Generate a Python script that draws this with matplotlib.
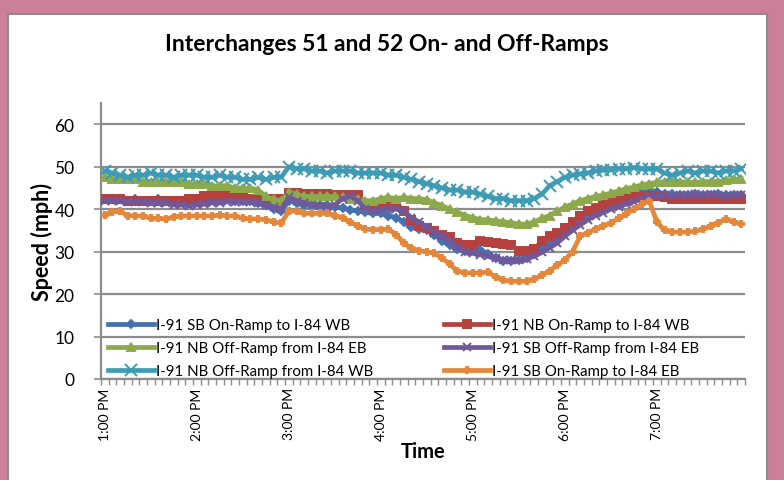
import matplotlib
matplotlib.use("Agg")
import matplotlib.pyplot as plt
from matplotlib.patches import Rectangle
import numpy as np

plt.rcParams['font.family'] = ['Lato', 'DejaVu Sans']

# 5-minute observations from 1:00 PM to 7:55 PM
times = [f"{h}:{m:02d} PM" for h in range(1, 8) for m in range(0, 60, 5)]
tick_labels = ["1:00 PM", "2:00 PM", "3:00 PM", "4:00 PM", "5:00 PM", "6:00 PM", "7:00 PM"]

sb_on_i84wb = [42.5, 42.5, 42.5, 42.0, 42.5, 42.0, 42.0, 42.5, 42.0, 42.0, 42.0, 42.0,
               42.0, 42.0, 42.5, 42.5, 42.5, 42.0, 42.0, 42.0, 41.5, 41.0, 40.0, 39.5,
               42.0, 41.5, 41.0, 41.0, 41.0, 41.0, 40.5, 40.3, 39.8, 39.6, 39.3, 39.0,
               39.0, 38.5, 38.0, 37.0, 35.8, 35.3, 35.0, 34.0, 32.5, 31.5, 30.5, 30.1,
               30.3, 30.4, 29.5, 28.5, 27.8, 27.8, 28.0, 28.5, 29.5, 31.0, 32.2, 33.5,
               35.0, 36.5, 37.8, 39.0, 40.0, 40.5, 41.2, 42.0, 42.8, 43.5, 44.0, 44.3,
               44.0, 43.6, 43.5, 43.3, 43.3, 43.5, 43.3, 43.3, 43.5, 43.3, 43.3, 43.3]

nb_on_i84wb = [42.5, 42.5, 42.5, 42.0, 42.0, 42.0, 42.0, 42.0, 42.0, 42.0, 42.0, 42.5,
               42.5, 43.0, 43.3, 43.3, 43.3, 43.0, 43.0, 42.5, 42.5, 42.5, 42.5, 42.5,
               43.8, 43.8, 43.5, 43.5, 43.5, 43.5, 43.3, 43.3, 43.3, 43.3, 41.0, 40.8,
               40.5, 41.5, 41.5, 39.5, 37.5, 36.0, 35.5, 34.8, 34.0, 33.5, 32.0, 31.5,
               31.5, 32.4, 32.2, 32.0, 31.8, 31.5, 30.2, 30.2, 30.5, 32.5, 33.6, 34.5,
               35.5, 37.0, 38.5, 39.5, 40.3, 41.0, 41.5, 42.0, 42.5, 43.0, 43.0, 43.0,
               43.2, 42.8, 42.5, 42.5, 42.5, 42.5, 42.5, 42.5, 42.5, 42.3, 42.3, 42.5]

nb_off_i84eb = [47.5, 47.0, 47.0, 47.0, 47.0, 46.5, 46.5, 46.5, 46.5, 46.5, 46.5, 46.0,
                46.0, 46.0, 45.5, 45.5, 45.5, 45.0, 45.0, 45.0, 44.5, 43.0, 42.3, 42.0,
                44.0, 43.5, 43.0, 43.0, 43.0, 43.0, 43.0, 42.8, 42.5, 42.5, 42.0, 42.0,
                42.5, 42.8, 42.5, 42.8, 42.5, 42.5, 42.2, 41.5, 40.8, 40.0, 39.3, 38.5,
                38.0, 37.5, 37.5, 37.2, 37.0, 36.8, 36.5, 36.5, 37.0, 37.8, 38.5, 39.5,
                40.5, 41.2, 42.0, 42.5, 43.0, 43.3, 43.8, 44.3, 44.8, 45.2, 45.7, 46.0,
                46.3, 46.5, 46.5, 46.5, 46.3, 46.3, 46.5, 46.5, 46.5, 46.8, 47.0, 47.2]

sb_off_i84eb = [42.0, 42.0, 42.0, 41.8, 41.8, 41.8, 41.5, 41.5, 41.5, 41.0, 41.0, 40.8,
                41.0, 41.2, 41.5, 41.5, 41.8, 41.8, 41.8, 41.8, 41.5, 41.0, 40.5, 40.0,
                42.8, 42.0, 41.5, 41.0, 40.8, 40.5, 41.0, 42.5, 43.0, 42.0, 40.0, 39.5,
                39.8, 40.0, 40.0, 39.5, 38.0, 37.0, 35.8, 34.5, 33.6, 32.5, 31.2, 30.0,
                29.6, 29.3, 29.0, 28.5, 28.0, 28.0, 28.0, 28.3, 28.9, 29.8, 30.9, 32.0,
                33.6, 35.0, 36.3, 37.5, 38.5, 39.2, 40.0, 40.6, 41.2, 41.8, 42.5, 43.0,
                43.1, 43.3, 43.0, 43.3, 43.3, 43.5, 43.3, 43.5, 43.3, 43.0, 43.3, 43.3]

nb_off_i84wb = [49.0, 48.5, 48.0, 47.5, 48.0, 48.0, 48.5, 48.0, 48.0, 47.5, 48.0, 48.0,
                48.0, 47.5, 47.5, 48.0, 47.5, 47.5, 47.0, 47.0, 47.5, 47.0, 47.5, 47.5,
                50.0, 49.5, 49.5, 49.0, 49.0, 48.5, 49.0, 49.0, 49.0, 48.5, 48.5, 48.5,
                48.5, 48.0, 48.0, 47.5, 47.0, 46.5, 46.0, 45.5, 45.0, 44.5, 44.5, 44.0,
                44.0, 43.5, 43.0, 42.5, 42.5, 42.0, 42.0, 42.0, 42.5, 43.5, 45.5, 46.5,
                47.5, 48.0, 48.3, 48.5, 49.0, 49.2, 49.3, 49.5, 49.5, 49.8, 49.5, 49.5,
                49.5, 48.5, 48.0, 48.5, 49.0, 48.5, 49.0, 49.0, 48.5, 49.0, 49.0, 49.5]

sb_on_i84eb = [38.6, 39.3, 39.5, 38.5, 38.4, 38.4, 37.8, 37.8, 37.7, 38.2, 38.4, 38.4,
               38.4, 38.4, 38.4, 38.6, 38.4, 38.4, 37.8, 37.7, 37.7, 37.5, 37.0, 36.7,
               39.5, 39.5, 39.0, 39.0, 39.0, 39.0, 38.5, 38.0, 37.0, 36.0, 35.3, 35.2,
               35.2, 35.3, 34.0, 32.0, 30.8, 30.2, 30.0, 29.6, 28.5, 27.0, 25.4, 25.0,
               25.0, 25.0, 25.2, 24.0, 23.3, 23.0, 23.0, 23.0, 23.5, 24.4, 25.5, 26.8,
               28.0, 30.0, 33.6, 34.5, 35.3, 36.0, 36.8, 37.8, 38.8, 40.0, 41.2, 42.0,
               37.0, 35.0, 34.6, 34.6, 34.6, 34.8, 35.3, 36.0, 36.8, 37.7, 37.0, 36.5]

series_names = ["I-91 SB On-Ramp to I-84 WB", "I-91 NB On-Ramp to I-84 WB",
                "I-91 NB Off-Ramp from I-84 EB", "I-91 SB Off-Ramp from I-84 EB",
                "I-91 NB Off-Ramp from I-84 WB", "I-91 SB On-Ramp to I-84 EB"]
series_values = [sb_on_i84wb, nb_on_i84wb, nb_off_i84eb, sb_off_i84eb, nb_off_i84wb, sb_on_i84eb]
colors = ['#4472B0', '#B5413E', '#8CAA4B', '#71589A', '#3E9BB5', '#E5873A']
markers = ['D', 's', '^', 'x', 'x', 'P']
msizes = [4.5, 5.5, 5.5, 5.5, 8, 4.5]

fig = plt.figure(figsize=(7.84, 4.81), dpi=100)
fig.patch.set_facecolor('#CC7F9A')

# white chart box (background axes)
bg = fig.add_axes([0, 0, 1, 1], zorder=-10)
bg.set_xlim(0, 784)
bg.set_ylim(481, 0)
bg.axis('off')
bg.add_patch(Rectangle((8, 15), 759, 475, facecolor='white', edgecolor='#8C8C8C', linewidth=1.5))

ax = fig.add_axes([101 / 784, (481 - 380) / 481, (745 - 101) / 784, (380 - 104) / 481], zorder=1)
ax.set_facecolor('none')

x = np.arange(len(times))
lines = []
for name, vals, c, m, ms in zip(series_names, series_values, colors, markers, msizes):
    ln, = ax.plot(x, vals, color=c, lw=3.4, marker=m, markersize=ms,
                  markeredgewidth=1.4, markeredgecolor=c, markerfacecolor=c,
                  label=name, solid_joinstyle='round', zorder=3)
    lines.append(ln)

ax.set_xlim(-0.5, len(times) - 0.5)
ax.set_ylim(0, 65)
ax.set_yticks(range(0, 61, 10))
ax.yaxis.grid(True, color='#8C8C8C', linewidth=1.6)
ax.set_axisbelow(True)
for s in ['top', 'right']:
    ax.spines[s].set_visible(False)
for s in ['left', 'bottom']:
    ax.spines[s].set_color('#8C8C8C')
    ax.spines[s].set_linewidth(1.6)

ax.set_xticks([times.index(t) for t in tick_labels])
ax.set_xticklabels(tick_labels, rotation=90, fontsize=10)
ax.set_xticks(np.arange(-0.5, len(times), 1.0), minor=True)
ax.tick_params(axis='x', which='major', length=0, pad=6)
ax.tick_params(axis='x', which='minor', length=4, width=1, color='#8C8C8C', direction='out')
ax.tick_params(axis='y', length=10, width=1.2, color='#8C8C8C', direction='inout', labelsize=12.5, pad=14)

fig.text(387 / 784, 1 - 45 / 481, "Interchanges 51 and 52 On- and Off-Ramps",
         fontsize=16.5, fontweight='bold', ha='center', va='center')
ax.set_ylabel("Speed (mph)", fontsize=15.5, fontweight='bold')
ax.yaxis.set_label_coords((42 - 101) / 644, 0.5)
ax.yaxis.label.set_va('center')
ax.set_xlabel("Time", fontsize=14.5, fontweight='bold')
ax.xaxis.set_label_coords(0.5, (380 - 452) / 276)
ax.xaxis.label.set_va('center')

order = [0, 2, 4, 1, 3, 5]
leg = ax.legend([lines[i] for i in order], [series_names[i] for i in order],
                ncol=2, loc='lower left', bbox_to_anchor=(-0.006, -0.035),
                frameon=False, fontsize=10.8, handlelength=3.1, handletextpad=0.12,
                columnspacing=4.7, labelspacing=0.6, numpoints=1, borderaxespad=0.3)

fig.savefig("out.png", dpi=100, facecolor=fig.get_facecolor())
